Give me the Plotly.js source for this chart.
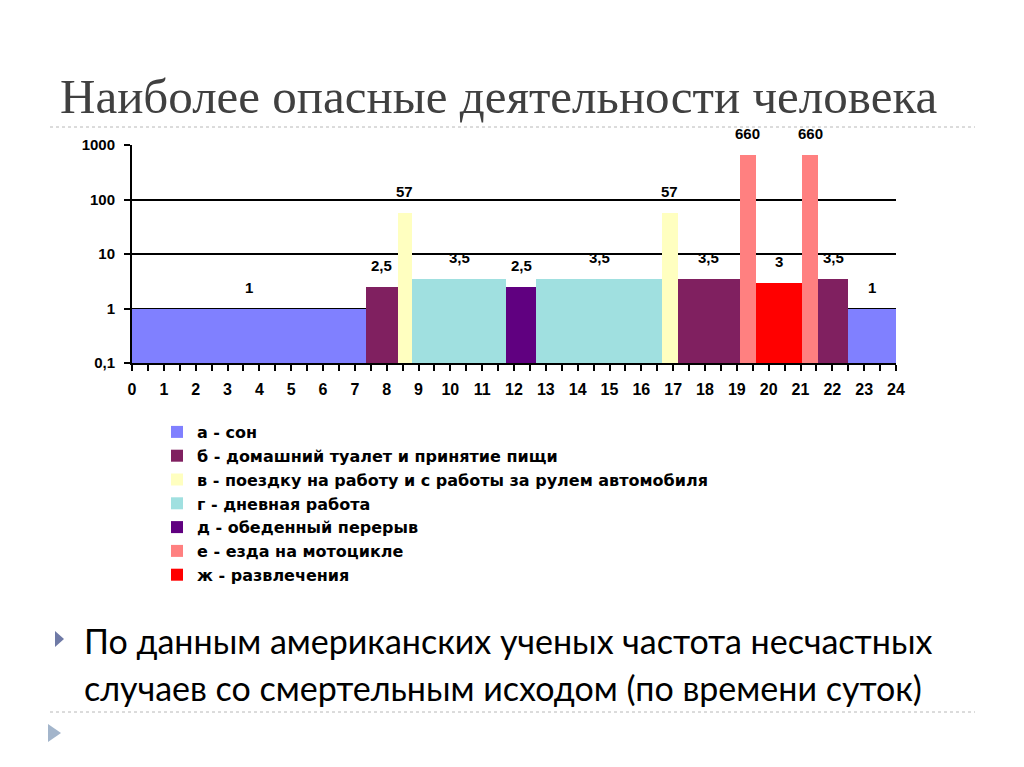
<!DOCTYPE html>
<html>
<head>
<meta charset="utf-8">
<script src="https://cdn.plot.ly/plotly-3.0.1.min.js"></script>
<style>
html,body{margin:0;padding:0;background:#fff;}
#chart{width:1024px;height:767px;}
</style>
</head>
<body>
<div id="chart"></div>
<script>
// Activities (legend)
const activityNames = [
  'а - сон',
  'б - домашний туалет и принятие пищи',
  'в - поездку на работу и с работы за рулем автомобиля',
  'г - дневная работа',
  'д - обеденный перерыв',
  'е - езда на мотоцикле',
  'ж - развлечения'
];
const activityColors = ['#8080FF', '#802060', '#FFFFC0', '#A0E0E0', '#600080', '#FF8080', '#FF0000'];

// Time segments of the day (hours), risk value and activity index
const segStart = [0, 7.35, 8.35, 8.8, 11.75, 12.7, 16.65, 17.15, 19.1, 19.6, 21.05, 21.55, 22.5];
const segEnd   = [7.35, 8.35, 8.8, 11.75, 12.7, 16.65, 17.15, 19.1, 19.6, 21.05, 21.55, 22.5, 24];
const segValue = [1, 2.5, 57, 3.5, 2.5, 3.5, 57, 3.5, 660, 3, 660, 3.5, 1];
const segActivity = [0, 1, 2, 3, 4, 3, 2, 1, 5, 6, 5, 1, 0];

// Axis tick labels
const hourTicks = Array.from({length: 25}, (_, i) => i);
const yTickVals = [0.1, 1, 10, 100, 1000];
const yTickText = ['0,1', '1', '10', '100', '1000'];

const titleText = 'Наиболее опасные деятельности человека';
const bulletLine1 = 'По данным американских ученых частота несчастных';
const bulletLine2 = 'случаев со смертельным исходом (по времени суток)';

const traces = activityNames.map((name, a) => {
  const xs = [], ws = [], ys = [];
  segActivity.forEach((act, i) => {
    if (act === a) {
      xs.push((segStart[i] + segEnd[i]) / 2);
      ws.push(segEnd[i] - segStart[i]);
      ys.push(segValue[i]);
    }
  });
  return {
    type: 'bar', name: name, x: xs, y: ys, width: ws,
    marker: {color: activityColors[a], line: {width: 0}},
    hoverinfo: 'skip'
  };
});

const fmt = v => String(v).replace('.', ',');
const valueLabels = segValue.map((v, i) => ({
  x: (segStart[i] + segEnd[i]) / 2, y: Math.log10(v), xref: 'x', yref: 'y',
  text: fmt(v), showarrow: false, yanchor: 'bottom', yshift: 11,
  font: {family: 'Liberation Sans, Arial, sans-serif', size: 15, color: '#000', weight: 'bold'}
}));

// pixel -> paper helpers for slide decorations
const L = 132, R = 896, T = 145, B = 363;
const px = p => (p - L) / (R - L);
const py = p => (B - p) / (B - T);

const annotations = valueLabels.concat([
  {xref: 'paper', yref: 'paper', x: px(82), y: py(640), xanchor: 'left', yanchor: 'middle',
   text: bulletLine1, showarrow: false, font: {family: 'Lato, sans-serif', size: 34, color: '#000'}},
  {xref: 'paper', yref: 'paper', x: px(82), y: py(687), xanchor: 'left', yanchor: 'middle',
   text: bulletLine2, showarrow: false, font: {family: 'Lato, sans-serif', size: 34, color: '#000'}}
]);

const tri = (x0, y0, x1, y1, ym) => `M${px(x0)},${py(y0)} L${px(x0)},${py(y1)} L${px(x1)},${py(ym)} Z`;

const shapes = [
  {type: 'line', xref: 'paper', yref: 'paper', x0: px(50), x1: px(975), y0: py(127), y1: py(127),
   line: {color: '#b8b8b8', width: 1, dash: 'dot'}},
  {type: 'line', xref: 'paper', yref: 'paper', x0: px(50), x1: px(975), y0: py(712), y1: py(712),
   line: {color: '#b8b8b8', width: 1, dash: 'dot'}},
  {type: 'path', xref: 'paper', yref: 'paper', path: tri(55, 631, 64, 647, 639),
   fillcolor: '#6f7aa6', line: {width: 0}},
  {type: 'path', xref: 'paper', yref: 'paper', path: tri(48, 724, 61, 742, 733),
   fillcolor: '#a3b5cb', line: {width: 0}}
];

const layout = {
  width: 1024, height: 767,
  margin: {l: L, r: 1024 - R, t: T, b: 767 - B},
  paper_bgcolor: '#fff', plot_bgcolor: '#fff',
  barmode: 'overlay', bargap: 0,
  showlegend: true,
  title: {
    text: titleText, xref: 'container', yref: 'container', x: 60 / 1024, xanchor: 'left',
    y: 1 - 96 / 767, yanchor: 'middle',
    font: {family: 'Liberation Serif, serif', size: 49, color: '#404040'}
  },
  xaxis: {
    range: [0, 24], tickvals: hourTicks, ticktext: hourTicks.map(String),
    showgrid: false, zeroline: false, showline: true, linecolor: '#000', linewidth: 2,
    ticks: 'outside', ticklen: 6, tickwidth: 2, tickcolor: '#000', ticklabelstandoff: 5,
    minor: {dtick: 0.5, tick0: 0, ticks: 'outside', ticklen: 6, tickwidth: 2, tickcolor: '#000', showgrid: false},
    tickfont: {family: 'Liberation Sans, Arial, sans-serif', size: 16, color: '#000', weight: 'bold'},
    fixedrange: true
  },
  yaxis: {
    type: 'log', range: [-1, 3], tickvals: yTickVals, ticktext: yTickText,
    showgrid: true, gridcolor: '#000', gridwidth: 2, zeroline: false,
    showline: true, linecolor: '#000', linewidth: 2,
    ticks: 'outside', ticklen: 6, tickwidth: 2, tickcolor: '#000', ticklabelstandoff: 6,
    tickfont: {family: 'Liberation Sans, Arial, sans-serif', size: 15, color: '#000', weight: 'bold'},
    fixedrange: true
  },
  legend: {
    x: px(157), y: py(415), xanchor: 'left', yanchor: 'top', orientation: 'v',
    bgcolor: 'rgba(0,0,0,0)', borderwidth: 0, tracegroupgap: 0,
    font: {family: 'DejaVu Sans, sans-serif', size: 16, color: '#000', weight: 'bold'}
  },
  annotations: annotations,
  shapes: shapes
};

Plotly.newPlot('chart', traces, layout, {displayModeBar: false, staticPlot: true});
</script>
</body>
</html>
